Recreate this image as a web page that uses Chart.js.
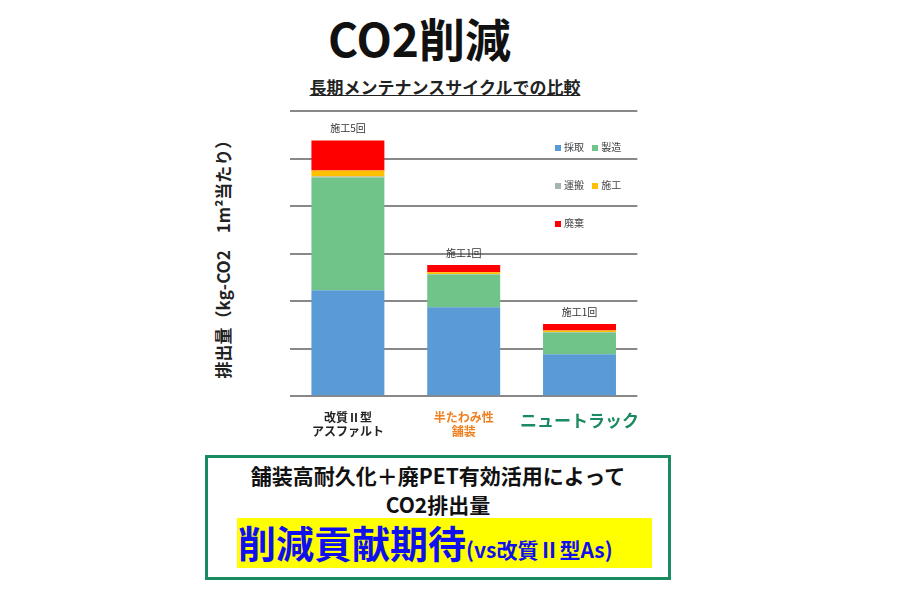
<!DOCTYPE html>
<html><head><meta charset="utf-8">
<script src="https://cdn.jsdelivr.net/npm/chart.js@4"></script>
<style>
body{margin:0;width:900px;height:600px;background:#fff;position:relative;font-family:"Noto Sans CJK JP",sans-serif;overflow:hidden}
.abs{position:absolute}
#title{left:328px;top:10px;font-size:46px;font-weight:bold;color:#111;line-height:54px}
#sub{left:290px;top:74px;width:310px;font-size:17px;font-weight:bold;color:#222;text-decoration:underline;text-align:center}
#ylab{left:222px;top:255px;transform:translate(-50%,-50%) rotate(-90deg);white-space:nowrap;font-size:17px;font-weight:bold;color:#222}
#box{left:205px;top:455px;width:460px;height:119px;border:3px solid #1a8a60}
#l1{left:205px;top:460px;width:466px;text-align:center;font-size:21px;font-weight:bold;color:#111}
#l2{left:205px;top:489px;width:466px;text-align:center;font-size:21px;font-weight:bold;color:#111}
#hl{left:237px;top:518px;width:415px;height:50px;background:#ffff00}
#l3{left:238px;top:517px;font-size:38px;font-weight:bold;color:#1010ee;line-height:50px;white-space:nowrap}
#l3 span{font-size:21px}
#leg{left:555px;top:128px;font-size:10px;color:#444;line-height:38px}
#leg i{display:inline-block;width:6px;height:6px;margin-right:3px;vertical-align:middle}
</style></head><body>
<div class="abs" id="title">CO2削減</div>
<div class="abs" id="sub">長期メンテナンスサイクルでの比較</div>
<div class="abs" id="ylab">排出量（kg-CO2　1m²当たり）</div>
<div class="abs" style="left:290px;top:100px;width:355px;height:345px"><canvas id="c"></canvas></div>
<div class="abs" id="leg"><div><i style="background:#5b9bd5"></i>採取 <i style="background:#70c48a;margin-left:6px"></i>製造</div><div><i style="background:#a5b5b0"></i>運搬 <i style="background:#ffc000;margin-left:6px"></i>施工</div><div><i style="background:#ff0000"></i>廃棄</div></div>
<div class="abs" id="box"></div>
<div class="abs" id="l1">舗装高耐久化＋廃PET有効活用によって</div>
<div class="abs" id="l2">CO2排出量</div>
<div class="abs" id="hl"></div>
<div class="abs" id="l3">削減貢献期待<span>(vs改質Ⅱ型As)</span></div>
<script>
const categories=[["改質Ⅱ型","アスファルト"],["半たわみ性","舗装"],"ニュートラック"];
const topLabels=["施工5回","施工1回","施工1回"];
const saishu=[2.23,1.87,0.88];
const seizo=[2.37,0.69,0.46];
const unpan=[0.02,0.01,0.01];
const seko=[0.13,0.04,0.03];
const haiki=[0.63,0.15,0.14];
const tickColors=["#222","#f08020","#1a8a60"];
const topPlugin={id:"top",afterDatasetsDraw(ch){const c=ch.ctx,y=ch.scales.y,x=ch.scales.x;c.save();c.font="10px 'Noto Sans CJK JP'";c.fillStyle="#333";c.textAlign="center";
for(let i=0;i<3;i++){const t=saishu[i]+seizo[i]+unpan[i]+seko[i]+haiki[i];c.fillText(topLabels[i],x.getPixelForValue(i),y.getPixelForValue(t)-8);}c.restore();}};
new Chart(document.getElementById("c"),{type:"bar",
data:{labels:categories,datasets:[
{label:"採取",data:saishu,backgroundColor:"#5b9bd5"},
{label:"製造",data:seizo,backgroundColor:"#70c48a"},
{label:"運搬",data:unpan,backgroundColor:"#a5b5b0"},
{label:"施工",data:seko,backgroundColor:"#ffc000"},
{label:"廃棄",data:haiki,backgroundColor:"#ff0000"}]},
options:{responsive:true,maintainAspectRatio:false,animation:false,
layout:{padding:{top:11}},
datasets:{bar:{barPercentage:0.63,categoryPercentage:1}},
plugins:{legend:{display:false},tooltip:{enabled:false}},
scales:{x:{stacked:true,grid:{display:false},border:{display:false},
ticks:{autoSkip:false,color:c=>tickColors[c.index],font:c=>c.index===2?{size:17,weight:"bold",family:"Noto Sans CJK JP"}:{size:12,weight:"bold",family:"Noto Sans CJK JP"},maxRotation:0,padding:6}},
y:{stacked:true,min:0,max:6,ticks:{display:false,stepSize:1},grid:{color:"#888",lineWidth:2,drawTicks:false},border:{display:false}}}},
plugins:[topPlugin]});
</script></body></html>
